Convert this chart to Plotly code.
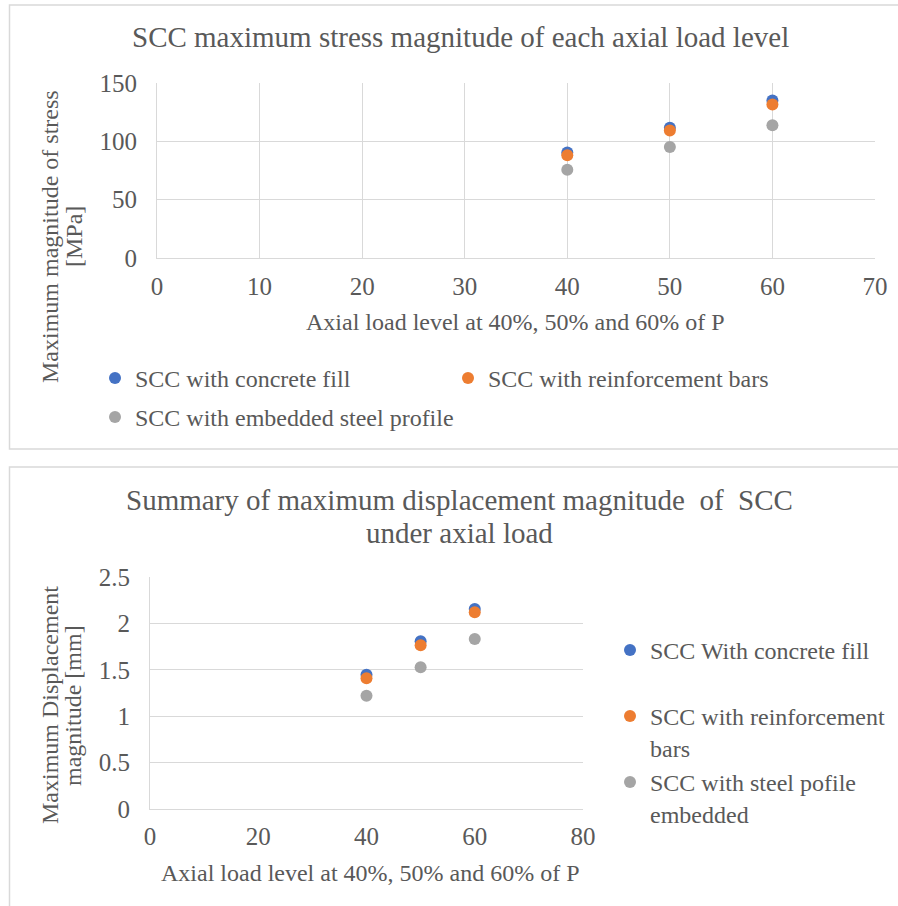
import plotly.graph_objects as go

W, H = 898, 906

# ---------------- data ----------------
load_levels = [40, 50, 60]

stress_names = ["SCC with concrete fill", "SCC with reinforcement bars", "SCC with embedded steel profile"]
stress_concrete_fill = [90.4, 111.6, 135.0]
stress_reinforcement = [88.1, 109.3, 131.6]
stress_steel_profile = [75.7, 95.2, 113.8]

disp_names = ["SCC With concrete fill", "SCC with reinforcement<br>bars", "SCC with steel pofile<br>embedded"]
disp_concrete_fill = [1.448, 1.807, 2.155]
disp_reinforcement = [1.410, 1.764, 2.119]
disp_steel_profile = [1.220, 1.527, 1.832]

colors = ["#4472C4", "#ED7D31", "#A5A5A5"]
TXT = "#595959"
GRID = "#d9d9d9"
FONT = "Liberation Serif"


def px(x):
    return x / W


def py(y):
    return 1 - y / H


fig = go.Figure()

stress_series = [stress_concrete_fill, stress_reinforcement, stress_steel_profile]
disp_series = [disp_concrete_fill, disp_reinforcement, disp_steel_profile]

for i, (name, vals) in enumerate(zip(stress_names, stress_series)):
    fig.add_trace(go.Scatter(
        x=load_levels, y=vals, mode="markers", name=name,
        marker=dict(color=colors[i], size=12),
        xaxis="x", yaxis="y", legend="legend" if i == 0 else f"legend{i+1}",
    ))

for i, (name, vals) in enumerate(zip(disp_names, disp_series)):
    fig.add_trace(go.Scatter(
        x=load_levels, y=vals, mode="markers", name=name,
        marker=dict(color=colors[i], size=12),
        xaxis="x2", yaxis="y2", legend=f"legend{i+4}",
    ))

axis_common = dict(
    showline=True, linecolor=GRID, linewidth=1, zeroline=False,
    gridcolor=GRID, gridwidth=1, ticks="",
    tickfont=dict(family=FONT, size=25, color=TXT),
    fixedrange=True,
)

legend_common = dict(
    font=dict(family=FONT, size=24, color=TXT),
    bgcolor="rgba(0,0,0,0)", borderwidth=0, valign="top",
    xanchor="left", yanchor="top", itemclick=False, itemdoubleclick=False,
)

# legend positions (marker centre x, top y)
leg_pos = [
    (115, 356), (468, 356), (115, 395),
    (630, 628), (630, 694), (630, 760),
]
legends = {}
for k, (mx, ty) in enumerate(leg_pos):
    key = "legend" if k == 0 else f"legend{k+1}"
    legends[key] = dict(legend_common, x=px(mx - 20), y=py(ty))

fig.update_layout(
    width=W, height=H, autosize=False,
    margin=dict(l=0, r=0, t=0, b=0, autoexpand=False),
    paper_bgcolor="white", plot_bgcolor="white",
    showlegend=True,
    xaxis=dict(axis_common, domain=[px(157), px(875)], range=[0, 70], dtick=10,
               showgrid=True, anchor="y", ticklabelstandoff=6),
    yaxis=dict(axis_common, domain=[py(258), py(83)], range=[0, 150], dtick=50,
               showgrid=True, anchor="x", ticklabelstandoff=14),
    xaxis2=dict(axis_common, domain=[px(150), px(583)], range=[0, 80], dtick=20,
                showgrid=False, anchor="y2", ticklabelstandoff=5),
    yaxis2=dict(axis_common, domain=[py(809), py(577)], range=[0, 2.5], dtick=0.5,
                showgrid=True, anchor="x2", ticklabelstandoff=14),
    **legends,
)

# chart frames
fig.add_shape(type="rect", xref="paper", yref="paper",
              x0=px(9.5), x1=px(905), y0=py(449), y1=py(5),
              line=dict(color=GRID, width=1.5), layer="below")
fig.add_shape(type="rect", xref="paper", yref="paper",
              x0=px(9.5), x1=px(905), y0=py(915), y1=py(467),
              line=dict(color=GRID, width=1.5), layer="below")


def ann(text, x, y, size, angle=0):
    fig.add_annotation(text=text, x=px(x), y=py(y), xref="paper", yref="paper",
                       xanchor="center", yanchor="middle", showarrow=False,
                       textangle=angle, font=dict(family=FONT, size=size, color=TXT))


ann("SCC maximum stress magnitude of each axial load level", 460, 37, 29)
ann("Axial load level at 40%, 50% and 60% of P", 515, 322, 24)
ann("Maximum magnitude of stress", 50, 237, 24, -90)
ann("[MPa]", 74, 237, 24, -90)

ann("Summary of maximum displacement magnitude  of  SCC", 459, 500, 29)
ann("under axial load", 459, 533, 29)
ann("Axial load level at 40%, 50% and 60% of P", 370, 873, 24)
ann("Maximum Displacement", 50, 705, 24, -90)
ann("magnitude [mm]", 73, 706, 24, -90)

fig.write_html(
    "out.html",
    config={"displayModeBar": False},
    post_script="document.body.style.margin='0';document.body.style.overflow='hidden';",
)
